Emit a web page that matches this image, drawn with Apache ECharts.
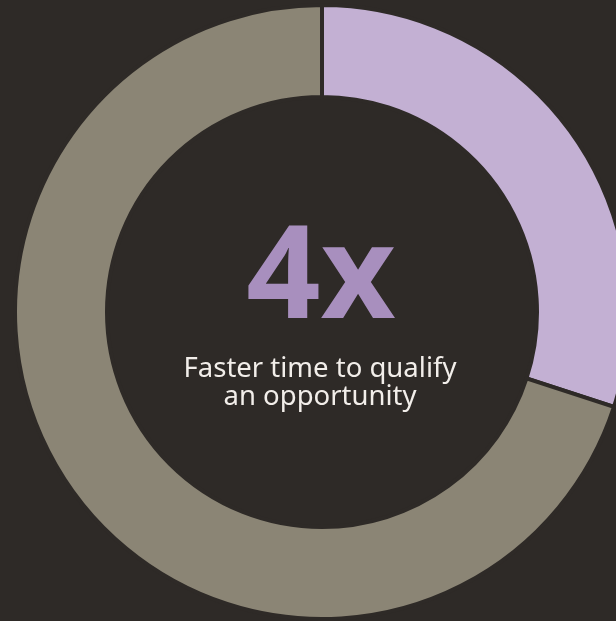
<!DOCTYPE html>
<html>
<head>
<meta charset="utf-8">
<script src="https://cdn.jsdelivr.net/npm/echarts@6/dist/echarts.min.js"></script>
<style>
html,body{margin:0;padding:0;background:#2e2a27;}
#c{width:616px;height:621px;}
</style>
</head>
<body>
<div id="c"></div>
<script>
var categories = ['Faster', 'Rest'];
var values = [30, 70];
var colors = ['#c3b0d3', '#8b8575'];
var headline = '4x';
var caption = 'Faster time to qualify\nan opportunity';

var chart = echarts.init(document.getElementById('c'), null, {renderer: 'canvas'});
chart.setOption({
  backgroundColor: '#2e2a27',
  animation: false,
  title: [
    {
      text: headline,
      left: 316, top: 211, textAlign: 'center',
      textStyle: {color: '#a88fbe', fontSize: 130, fontWeight: 'bold', fontFamily: 'Noto Sans', lineHeight: 130}
    },
    {
      text: caption,
      left: 315, top: 350, textAlign: 'center',
      textStyle: {color: '#f2eeea', fontSize: 27.5, fontWeight: 'normal', fontFamily: 'Noto Sans', lineHeight: 28}
    }
  ],
  series: [{
    type: 'pie',
    center: [322, 312],
    radius: [215, 307],
    startAngle: 90,
    clockwise: true,
    silent: true,
    label: {show: false},
    labelLine: {show: false},
    itemStyle: {borderColor: '#2e2a27', borderWidth: 4},
    data: categories.map(function (c, i) {
      return {name: c, value: values[i], itemStyle: {color: colors[i]}};
    })
  }]
});
</script>
</body>
</html>
